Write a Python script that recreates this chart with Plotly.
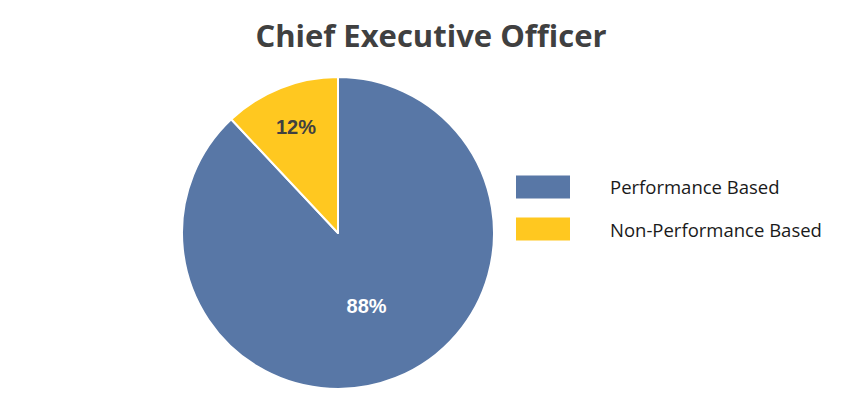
import plotly.graph_objects as go

labels = ["Performance Based", "Non-Performance Based"]
values = [88, 12]
colors = ["#5877A6", "#FFC820"]
text_colors = ["#FFFFFF", "#404040"]
title = "Chief Executive Officer"

W, H = 859, 408

fig = go.Figure(go.Pie(
    labels=labels,
    values=values,
    sort=False,
    direction="clockwise",
    rotation=0,
    marker=dict(colors=colors, line=dict(color="#FFFFFF", width=2)),
    texttemplate="%{percent:.0%}",
    textposition="inside",
    insidetextorientation="horizontal",
    textfont=dict(family="Liberation Sans, Arial", size=20, color=text_colors, weight="bold"),
    domain=dict(x=[182 / W, 494 / W], y=[19 / H, 331 / H]),
    showlegend=False,
    hoverinfo="label+percent",
))

# custom legend
shapes = []
annotations = []
rows_y = [187, 229]
for lab, col, yc in zip(labels, colors, rows_y):
    shapes.append(dict(type="rect", xref="paper", yref="paper",
                       x0=516 / W, x1=570 / W,
                       y0=1 - (yc + 11.5) / H, y1=1 - (yc - 11.5) / H,
                       fillcolor=col, line=dict(width=0)))
    annotations.append(dict(text=lab, xref="paper", yref="paper",
                            x=608 / W, y=1 - yc / H, xanchor="left", yanchor="middle",
                            showarrow=False,
                            font=dict(family="Open Sans", size=18.5, color="#1A1A1A")))

fig.update_layout(
    width=W, height=H,
    margin=dict(l=0, r=0, t=0, b=0),
    paper_bgcolor="#FFFFFF",
    plot_bgcolor="#FFFFFF",
    title=dict(text=title, x=431 / W, xanchor="center", y=1 - 36 / H, yanchor="middle",
               font=dict(family="Open Sans", size=31, color="#404040", weight="bold")),
    shapes=shapes,
    annotations=annotations,
)

fig.write_html("out.html", config={"displayModeBar": False},
               post_script="document.body.style.margin='0';")
